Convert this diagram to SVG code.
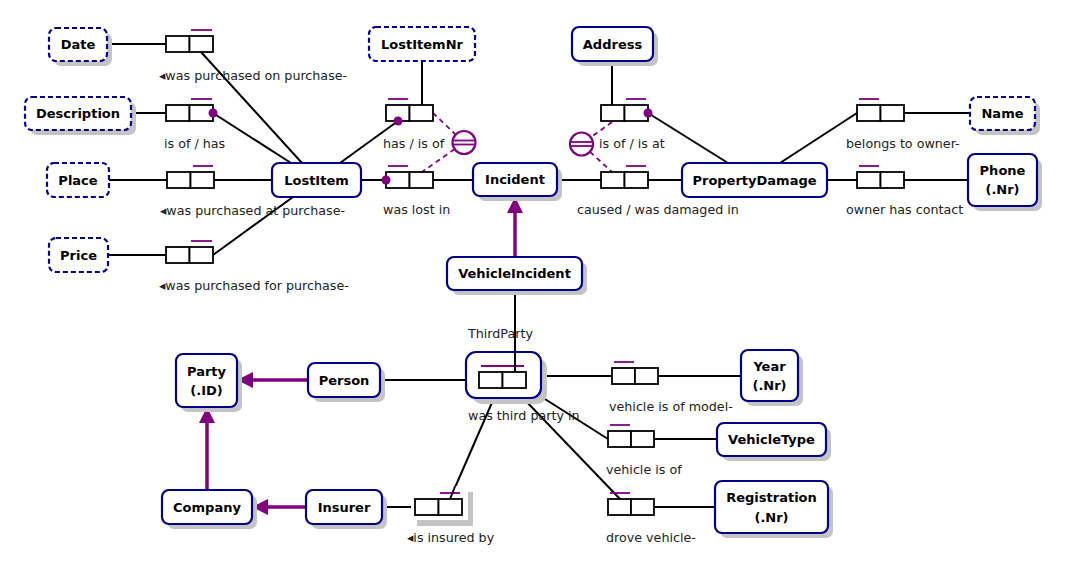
<svg xmlns="http://www.w3.org/2000/svg" width="1070" height="569" viewBox="0 0 1070 569">
<defs>
<style>
.node{fill:#fff;stroke:#000088;stroke-width:2.2}
.val{fill:#fff;stroke:#000088;stroke-width:2.2;stroke-dasharray:5 3}
.sh{fill:#c4c4c4}
.nt{font-family:"DejaVu Sans",Verdana,sans-serif;font-size:13px;font-weight:bold;fill:#000;text-anchor:middle}
.lb{font-family:"DejaVu Sans",Verdana,sans-serif;font-size:12.7px;fill:#222}
.role{fill:#fff;stroke:#000;stroke-width:1.8}
.uc{stroke:#800080;stroke-width:1.8}
.dot{fill:#800080}
.ln{stroke:#000;stroke-width:2;fill:none}
.sub{stroke:#800080;stroke-width:3.5;fill:none;marker-end:url(#arr)}
.eq{fill:#fff;stroke:#800080;stroke-width:2.2}
.eql{stroke:#800080;stroke-width:1.8}
.dash{stroke:#800080;stroke-width:1.8;stroke-dasharray:5 4;fill:none}
</style>
<marker id="arr" markerUnits="userSpaceOnUse" markerWidth="18" markerHeight="18" refX="16" refY="8" orient="auto">
<path d="M0,0 L16,8 L0,16 Z" fill="#800080"/>
</marker>
</defs>
<rect width="1070" height="569" fill="#fff"/>

<g id="connectors">
<line class="ln" x1="107" y1="44" x2="166" y2="44"/>
<line class="ln" x1="201" y1="52" x2="302" y2="163"/>
<line class="ln" x1="131" y1="113" x2="166" y2="113"/>
<line class="ln" x1="213" y1="113" x2="291" y2="163"/>
<line class="ln" x1="109" y1="180" x2="167" y2="180"/>
<line class="ln" x1="214" y1="180" x2="272" y2="180"/>
<line class="ln" x1="108" y1="255" x2="166" y2="255"/>
<line class="ln" x1="213" y1="255" x2="293" y2="197"/>
<line class="ln" x1="422" y1="61" x2="422" y2="105"/>
<line class="ln" x1="398" y1="121" x2="340" y2="163"/>
<line class="ln" x1="361" y1="180" x2="386" y2="180"/>
<line class="ln" x1="433" y1="180" x2="473" y2="180"/>
<line class="ln" x1="612" y1="61" x2="612" y2="105"/>
<line class="ln" x1="648" y1="113" x2="728" y2="163"/>
<line class="ln" x1="557" y1="180" x2="601" y2="180"/>
<line class="ln" x1="648" y1="180" x2="682" y2="180"/>
<line class="ln" x1="780" y1="163" x2="857" y2="113"/>
<line class="ln" x1="904" y1="113" x2="970" y2="113"/>
<line class="ln" x1="827" y1="180" x2="857" y2="180"/>
<line class="ln" x1="904" y1="180" x2="968" y2="180"/>
<line class="ln" x1="515" y1="290" x2="515" y2="372"/>
<line class="ln" x1="380" y1="380" x2="479" y2="380"/>
<line class="ln" x1="541" y1="376" x2="612" y2="376"/>
<line class="ln" x1="658" y1="376" x2="741" y2="376"/>
<line class="ln" x1="537" y1="394" x2="608" y2="439"/>
<line class="ln" x1="654" y1="439" x2="717" y2="439"/>
<line class="ln" x1="523" y1="398" x2="620" y2="499"/>
<line class="ln" x1="654" y1="507" x2="715" y2="507"/>
<line class="ln" x1="494" y1="398" x2="450" y2="499"/>
<line class="ln" x1="382" y1="507" x2="415" y2="507"/>
<line class="sub" x1="515" y1="257" x2="515" y2="197"/>
<line class="sub" x1="308" y1="380" x2="237" y2="380"/>
<line class="sub" x1="207" y1="490" x2="207" y2="407"/>
<line class="sub" x1="306" y1="507" x2="252" y2="507"/>
<line class="dash" x1="433" y1="113" x2="455.7" y2="134.6"/>
<line class="dash" x1="454.6" y1="149.1" x2="422" y2="172"/>
<line class="dash" x1="612" y1="122" x2="590.8" y2="137.3"/>
<line class="dash" x1="590" y1="151.8" x2="612" y2="172"/>
</g>

<g id="eq1">
<circle class="eq" cx="464" cy="142.5" r="11.5"/>
<line class="eql" x1="452.8" y1="140.5" x2="475.2" y2="140.5"/>
<line class="eql" x1="452.8" y1="144.5" x2="475.2" y2="144.5"/>
</g>
<g id="eq2">
<circle class="eq" cx="581.5" cy="144" r="11.5"/>
<line class="eql" x1="570.3" y1="142" x2="592.7" y2="142"/>
<line class="eql" x1="570.3" y1="146" x2="592.7" y2="146"/>
</g>

<g id="Date"><rect class="sh" x="54" y="33" width="58" height="33" rx="7"/><rect class="val" x="49" y="28" width="58" height="33" rx="7"/><text class="nt" x="78" y="49">Date</text></g>
<g id="Description"><rect class="sh" x="30" y="102" width="106" height="33" rx="7"/><rect class="val" x="25" y="97" width="106" height="33" rx="7"/><text class="nt" x="78" y="118">Description</text></g>
<g id="Place"><rect class="val" x="47" y="163" width="62" height="34" rx="7"/><text class="nt" x="78" y="184.5">Place</text></g>
<g id="Price"><rect class="val" x="49" y="238" width="59" height="34" rx="7"/><text class="nt" x="78.5" y="259.5">Price</text></g>
<g id="LostItem"><rect class="node" x="272" y="163" width="89" height="34" rx="7"/><text class="nt" x="316.5" y="184.5">LostItem</text></g>
<g id="LostItemNr"><rect class="val" x="369" y="27" width="106" height="34" rx="7"/><text class="nt" x="422" y="48.5">LostItemNr</text></g>
<g id="Incident"><rect class="sh" x="478" y="168" width="84" height="33" rx="7"/><rect class="node" x="473" y="163" width="84" height="33" rx="7"/><text class="nt" x="515" y="184">Incident</text></g>
<g id="Address"><rect class="sh" x="577" y="32" width="81" height="34" rx="7"/><rect class="node" x="572" y="27" width="81" height="34" rx="7"/><text class="nt" x="612.5" y="48.5">Address</text></g>
<g id="PropertyDamage"><rect class="node" x="682" y="163" width="145" height="34" rx="7"/><text class="nt" x="754.5" y="184.5">PropertyDamage</text></g>
<g id="Name"><rect class="sh" x="975" y="102" width="65" height="33" rx="7"/><rect class="val" x="970" y="97" width="65" height="33" rx="7"/><text class="nt" x="1002.5" y="118">Name</text></g>
<g id="Phone"><rect class="sh" x="973" y="159" width="69" height="52" rx="7"/><rect class="node" x="968" y="154" width="69" height="52" rx="7"/><text class="nt" x="1002.5" y="174.5">Phone</text><text class="nt" x="1002.5" y="193.5">(.Nr)</text></g>
<g id="VehicleIncident"><rect class="sh" x="452" y="262" width="135" height="33" rx="7"/><rect class="node" x="447" y="257" width="135" height="33" rx="7"/><text class="nt" x="514.5" y="278">VehicleIncident</text></g>
<g id="Party"><rect class="sh" x="181" y="359" width="61" height="53" rx="7"/><rect class="node" x="176" y="354" width="61" height="53" rx="7"/><text class="nt" x="206.5" y="375.5">Party</text><text class="nt" x="206.5" y="394.5">(.ID)</text></g>
<g id="Person"><rect class="sh" x="313" y="368" width="72" height="34" rx="7"/><rect class="node" x="308" y="363" width="72" height="34" rx="7"/><text class="nt" x="344" y="384.5">Person</text></g>
<g id="Company"><rect class="sh" x="167" y="495" width="90" height="34" rx="7"/><rect class="node" x="162" y="490" width="90" height="34" rx="7"/><text class="nt" x="207" y="511.5">Company</text></g>
<g id="Insurer"><rect class="sh" x="311" y="495" width="76" height="34" rx="7"/><rect class="node" x="306" y="490" width="76" height="34" rx="7"/><text class="nt" x="344" y="511.5">Insurer</text></g>
<g id="Year"><rect class="sh" x="746" y="355" width="57" height="51" rx="7"/><rect class="node" x="741" y="350" width="57" height="51" rx="7"/><text class="nt" x="769.5" y="370.5">Year</text><text class="nt" x="769.5" y="389.5">(.Nr)</text></g>
<g id="VehicleType"><rect class="sh" x="722" y="428" width="109" height="33" rx="7"/><rect class="node" x="717" y="423" width="109" height="33" rx="7"/><text class="nt" x="771.5" y="444">VehicleType</text></g>
<g id="Registration"><rect class="sh" x="720" y="486" width="113" height="52" rx="7"/><rect class="node" x="715" y="481" width="113" height="52" rx="7"/><text class="nt" x="771.5" y="501.5">Registration</text><text class="nt" x="771.5" y="521.5">(.Nr)</text></g>

<g id="ft-purchasedOn"><rect class="role" x="166" y="36" width="23.5" height="16"/><rect class="role" x="189.5" y="36" width="23.5" height="16"/><line class="uc" x1="191" y1="30" x2="212" y2="30"/><text class="lb" x="159" y="80">◂was purchased on purchase-</text></g>
<g id="ft-description"><rect class="role" x="166" y="105" width="23.5" height="16"/><rect class="role" x="189.5" y="105" width="23.5" height="16"/><line class="uc" x1="191" y1="99" x2="212" y2="99"/><circle class="dot" cx="213" cy="113" r="4.5"/><text class="lb" x="164" y="148">is of / has</text></g>
<g id="ft-purchasedAt"><rect class="role" x="167" y="172" width="23.5" height="16"/><rect class="role" x="190.5" y="172" width="23.5" height="16"/><line class="uc" x1="193" y1="166" x2="213" y2="166"/><text class="lb" x="160" y="215">◂was purchased at purchase-</text></g>
<g id="ft-purchasedFor"><rect class="role" x="166" y="247" width="23.5" height="16"/><rect class="role" x="189.5" y="247" width="23.5" height="16"/><line class="uc" x1="191" y1="241" x2="212" y2="241"/><text class="lb" x="159" y="290">◂was purchased for purchase-</text></g>
<g id="ft-lostItemNr"><rect class="role" x="386" y="105" width="23.5" height="16"/><rect class="role" x="409.5" y="105" width="23.5" height="16"/><line class="uc" x1="388" y1="99" x2="408" y2="99"/><circle class="dot" cx="398" cy="121" r="4.5"/><text class="lb" x="383" y="148">has / is of</text></g>
<g id="ft-lostIn"><rect class="role" x="386" y="172" width="23.5" height="16"/><rect class="role" x="409.5" y="172" width="23.5" height="16"/><line class="uc" x1="388" y1="166" x2="408" y2="166"/><circle class="dot" cx="386" cy="180" r="4.5"/><text class="lb" x="383" y="214">was lost in</text></g>
<g id="ft-address"><rect class="role" x="601" y="105" width="23.5" height="16"/><rect class="role" x="624.5" y="105" width="23.5" height="16"/><line class="uc" x1="626" y1="99" x2="646" y2="99"/><circle class="dot" cx="648" cy="113" r="4.5"/><text class="lb" x="599" y="148">is of / is at</text></g>
<g id="ft-caused"><rect class="role" x="601" y="172" width="23.5" height="16"/><rect class="role" x="624.5" y="172" width="23.5" height="16"/><line class="uc" x1="626" y1="166" x2="646" y2="166"/><text class="lb" x="577" y="214">caused / was damaged in</text></g>
<g id="ft-owner"><rect class="role" x="857" y="105" width="23.5" height="16"/><rect class="role" x="880.5" y="105" width="23.5" height="16"/><line class="uc" x1="859" y1="99" x2="879" y2="99"/><text class="lb" x="846" y="148">belongs to owner-</text></g>
<g id="ft-contact"><rect class="role" x="857" y="172" width="23.5" height="16"/><rect class="role" x="880.5" y="172" width="23.5" height="16"/><line class="uc" x1="859" y1="166" x2="879" y2="166"/><text class="lb" x="846" y="214">owner has contact</text></g>
<g id="ThirdParty"><rect class="sh" x="472" y="358" width="75" height="46" rx="10"/><rect class="node" x="466" y="352" width="75" height="46" rx="10"/><rect class="role" x="479" y="372" width="23.5" height="16"/><rect class="role" x="502.5" y="372" width="23.5" height="16"/><line class="uc" x1="481" y1="366" x2="524" y2="366"/><line class="ln" x1="515" y1="352" x2="515" y2="372"/><text class="lb" x="468" y="338">ThirdParty</text><text class="lb" x="468" y="420">was third party in</text></g>
<g id="ft-year"><rect class="role" x="612" y="368" width="23" height="16"/><rect class="role" x="635" y="368" width="23" height="16"/><line class="uc" x1="614" y1="362" x2="634" y2="362"/><text class="lb" x="609" y="411">vehicle is of model-</text></g>
<g id="ft-type"><rect class="role" x="608" y="431" width="23" height="16"/><rect class="role" x="631" y="431" width="23" height="16"/><line class="uc" x1="610" y1="425" x2="630" y2="425"/><text class="lb" x="606" y="474">vehicle is of</text></g>
<g id="ft-reg"><rect class="role" x="608" y="499" width="23" height="16"/><rect class="role" x="631" y="499" width="23" height="16"/><line class="uc" x1="610" y1="493" x2="630" y2="493"/><text class="lb" x="606" y="542">drove vehicle-</text></g>
<g id="ft-insured"><rect class="sh" x="417" y="492" width="56" height="34"/><rect x="411" y="486" width="57" height="34" fill="#fff"/><rect class="role" x="415" y="499" width="23.5" height="16"/><rect class="role" x="438.5" y="499" width="23.5" height="16"/><line class="uc" x1="440" y1="493" x2="460" y2="493"/><line class="ln" x1="455.2" y1="486" x2="450" y2="499"/><text class="lb" x="407" y="542">◂is insured by</text></g>
</svg>
